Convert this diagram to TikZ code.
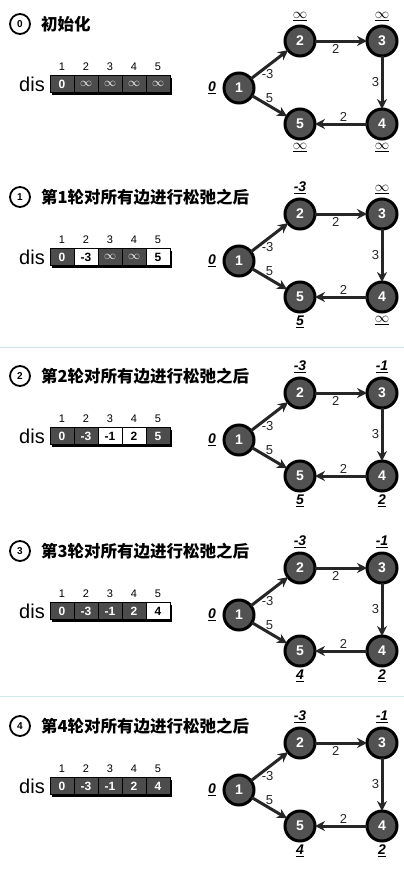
\documentclass[tikz,border=0pt]{standalone}
\usepackage{fontspec}
\setmainfont{Liberation Sans}
\newfontfamily\cjk{Noto Sans CJK SC}
\usepackage{tikz}
\usetikzlibrary{positioning,arrows.meta,shadows}
\definecolor{sepblue}{RGB}{206,232,238}
\colorlet{cellD}{black!70}
\colorlet{txtD}{white}
\colorlet{cellW}{white}
\colorlet{txtW}{black}
\tikzset{
  vtx/.style={circle,draw=black,line width=3pt,fill=black!68,text=white,font=\bfseries\fontsize{14}{14}\selectfont,minimum size=30pt,inner sep=0pt,outer sep=0pt},
  relax/.style={-{Stealth[length=10pt,width=10pt]},line width=3pt,draw=black!85},
  elab/.style={font=\fontsize{13}{13}\selectfont,inner sep=1.5pt,text=black!85},
  dist/.style={font=\fontsize{14}{14}\selectfont,inner sep=0pt},
  cell/.style={draw=black,line width=0.8pt,minimum width=24pt,minimum height=17pt,inner sep=0pt,outer sep=0pt,
    font=\bfseries\fontsize{12}{12}\selectfont,fill=cell#1,text=txt#1,
    drop shadow={shadow xshift=2pt,shadow yshift=-2pt,fill=black,opacity=1}},
  idx/.style={font=\fontsize{11}{11}\selectfont,inner sep=0pt},
  stepnum/.style={circle,draw,line width=1.8pt,minimum size=20pt,inner sep=0pt,font=\bfseries\fontsize{10}{10}\selectfont},
  ttl/.style={font=\cjk\bfseries\fontsize{16.5}{16.5}\selectfont,inner sep=0pt},
  disname/.style={font=\fontsize{20}{20}\selectfont,inner sep=0pt},
  sep/.style={draw=sepblue,line width=1pt}
}
\newcommand{\dl}[1]{\textbf{\textit{\underline{#1}}}}
\newcommand{\infsym}{$\infty$}
% one round: offset, round, title, cells, dis of vertex 2..5
\newcommand{\drawpanel}[8]{%
  \node[stepnum] (s#2) at (20,#1+24) {#2};
  \node[ttl,right=10pt of s#2] (t#2) {#3};
  \foreach \v/\c [count=\i,remember=\i as \j (initially 0)] in {#4} {
    \ifnum\i=1
      \node[cell=\c] (c#2-\i) at (62,#1+84) {\v};
    \else
      \node[cell=\c,right=0pt of c#2-\j] (c#2-\i) {\v};
    \fi
    \node[idx,above=5pt of c#2-\i] (i#2-\i) {\i};
  }
  \node[disname,left=5pt of c#2-1] (dis#2) {dis};
  \node[vtx] (n#2-1) at (239,#1+88) {1};
  \node[vtx] (n#2-2) at (300,#1+41) {2};
  \node[vtx,right=52pt of n#2-2] (n#2-3) {3};
  \node[vtx,below=53pt of n#2-3] (n#2-4) {4};
  \node[vtx,left=52pt of n#2-4] (n#2-5) {5};
  \node[dist,left=8pt of n#2-1] (d#2-1) {\dl{0}};
  \node[dist,above=5pt of n#2-2] (d#2-2) {\dl{#5}};
  \node[dist,above=5pt of n#2-3] (d#2-3) {\dl{#6}};
  \node[dist,below=4pt of n#2-4] (d#2-4) {\dl{#7}};
  \node[dist,below=4pt of n#2-5] (d#2-5) {\dl{#8}};
  \draw[relax] (n#2-1) -- node[elab,pos=.45,below] (e#2-12) {-3} (n#2-2);
  \draw[relax] (n#2-2) -- node[elab,pos=.4,below] (e#2-23) {2} (n#2-3);
  \draw[relax] (n#2-3) -- node[elab,midway,left] (e#2-34) {3} (n#2-4);
  \draw[relax] (n#2-4) -- node[elab,pos=.45,above] (e#2-45) {2} (n#2-5);
  \draw[relax] (n#2-1) -- node[elab,midway,above] (e#2-15) {5} (n#2-5);
}

\begin{document}
\begin{tikzpicture}[x=1pt,y=-1pt]
  \useasboundingbox (0,0) rectangle (404,873);
  \drawpanel{0}{0}{初始化}{0/D,\infsym/D,\infsym/D,\infsym/D,\infsym/D}{\infsym}{\infsym}{\infsym}{\infsym}
  \drawpanel{173}{1}{第1轮对所有边进行松弛之后}{0/D,-3/W,\infsym/D,\infsym/D,5/W}{-3}{\infsym}{\infsym}{5}
  \draw[sep] (0,347) -- (404,347);
  \drawpanel{352}{2}{第2轮对所有边进行松弛之后}{0/D,-3/D,-1/W,2/W,5/D}{-3}{-1}{2}{5}
  \drawpanel{527}{3}{第3轮对所有边进行松弛之后}{0/D,-3/D,-1/D,2/D,4/W}{-3}{-1}{2}{4}
  \draw[sep] (0,696) -- (404,696);
  \drawpanel{702}{4}{第4轮对所有边进行松弛之后}{0/D,-3/D,-1/D,2/D,4/D}{-3}{-1}{2}{4}
\end{tikzpicture}
\end{document}
